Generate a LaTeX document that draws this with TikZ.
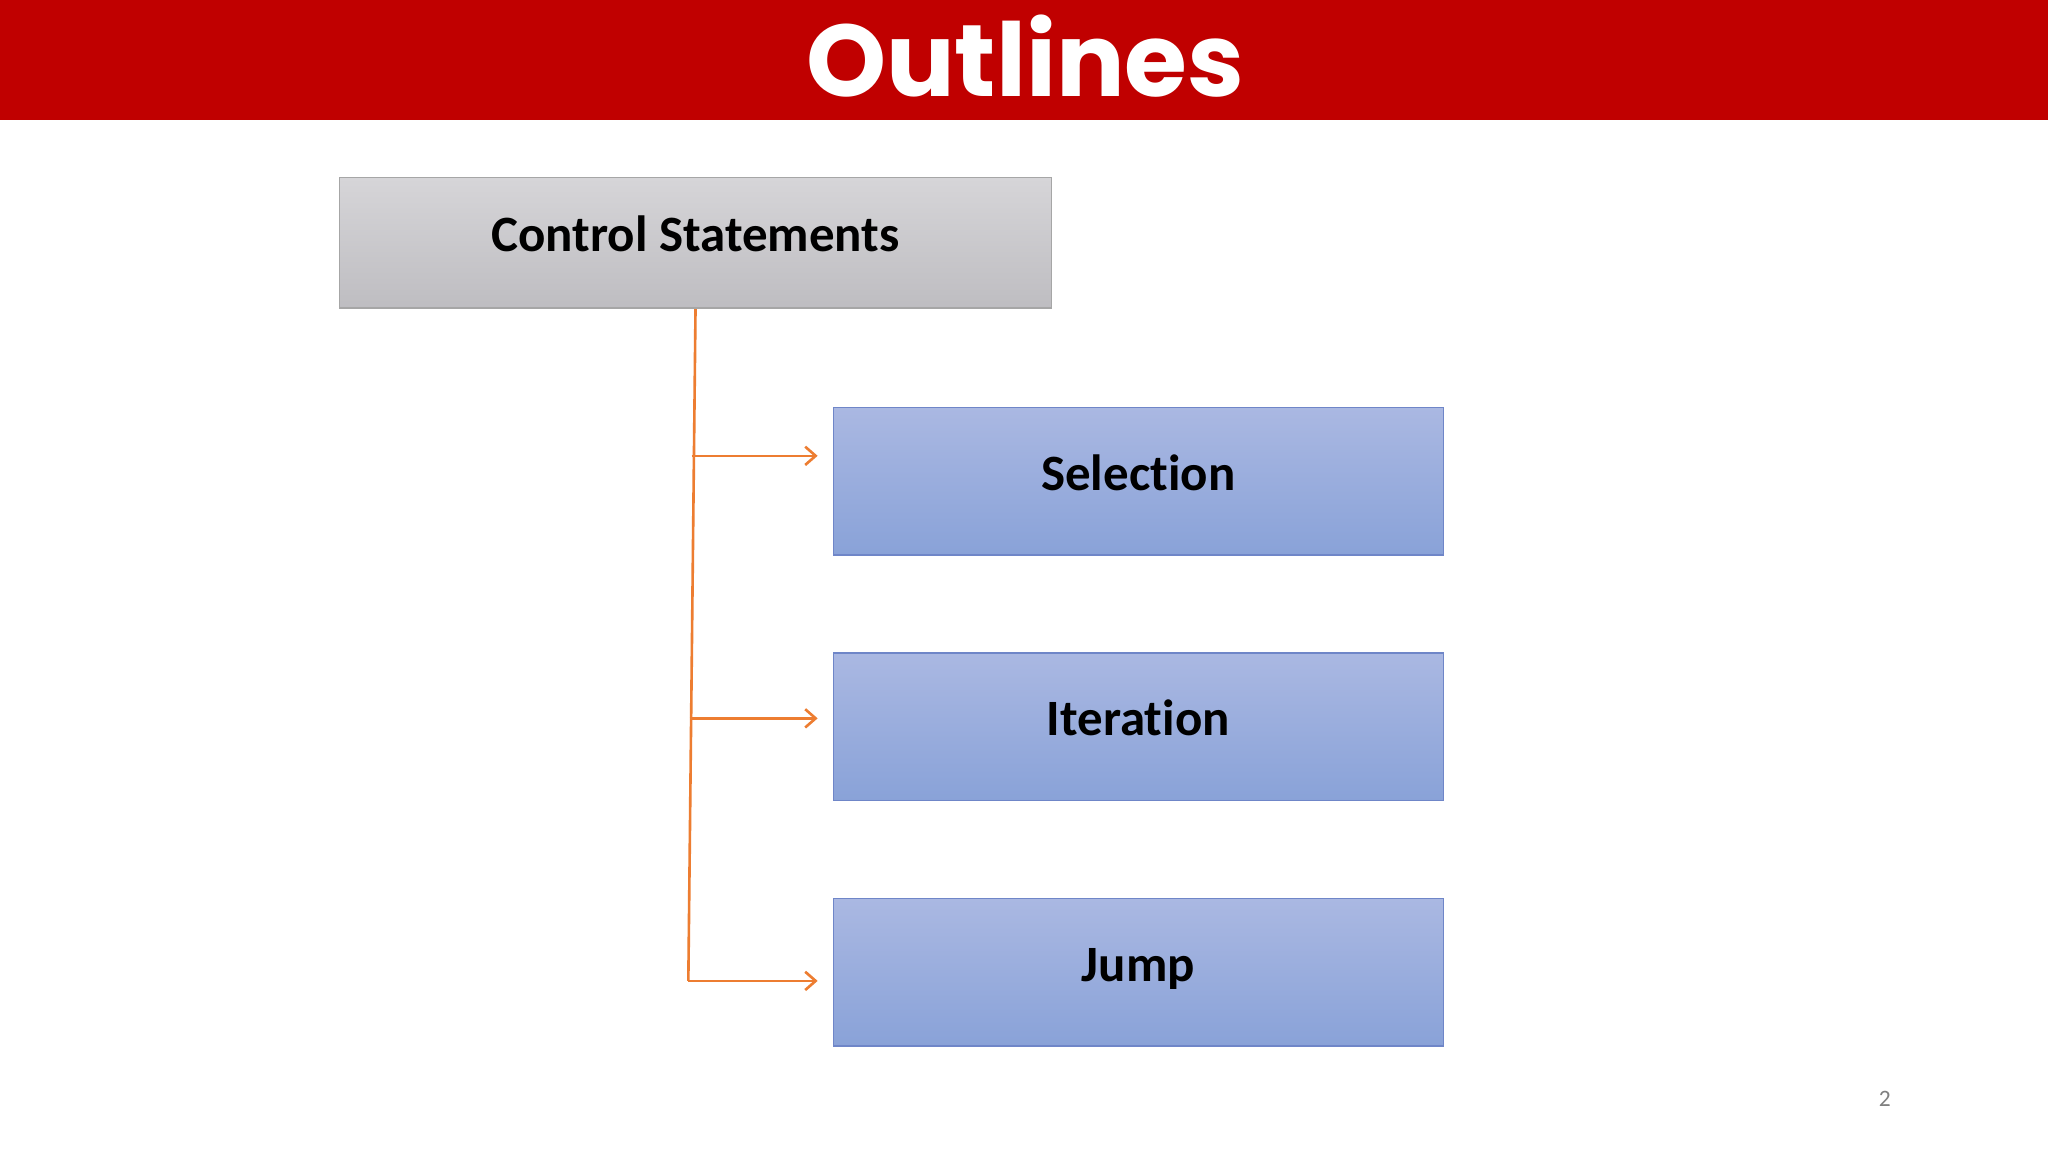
\documentclass[tikz,border=0pt]{standalone}
\usepackage{fontspec}
\setmainfont[RawFeature=-liga]{Carlito}
\newfontfamily\titlefont{Poppins}
\usetikzlibrary{arrows.meta}
\definecolor{hdr}{HTML}{C00000}
\definecolor{org}{HTML}{ED7D31}
\definecolor{bborder}{HTML}{6F86C8}
\tikzset{
  boxtext/.style={font=\bfseries\fontsize{19.5}{22}\selectfont, text height=0.68em, text depth=0em},
  bluebox/.style={boxtext, draw=bborder, line width=0.6pt, top color={rgb,255:red,170;green,184;blue,226}, bottom color={rgb,255:red,137;green,162;blue,216}, minimum width=233.5pt, minimum height=56.5pt},
  graybox/.style={boxtext, draw=gray!70, line width=0.6pt, top color={rgb,255:red,214;green,213;blue,216}, bottom color={rgb,255:red,190;green,189;blue,193}, minimum width=272.5pt, minimum height=50pt},
  conn/.style={draw=org, line width=1pt, -{Straight Barb[length=4pt,width=7pt]}}
}
\begin{document}
\begin{tikzpicture}[x=0.5pt,y=-0.5pt]
\useasboundingbox (0,0) rectangle (1568,882);
\fill[white] (0,0) rectangle (1568,882);
\fill[hdr] (0,0) rectangle (1568,92);
\node[text=white, font=\titlefont\bfseries\fontsize{39}{43}\selectfont] (title) at (785,43) {Outlines};
\node[graybox] (cs) at (532.5,186) {Control Statements};
\node[bluebox] (sel) at (871.5,368.5) {Selection};
\node[bluebox] (it) at (871.5,556.5) {Iteration};
\node[bluebox] (jp) at (871.5,744.5) {Jump};
\coordinate (b1) at (529.5,349);
\coordinate (b2) at (528,550);
\coordinate (b3) at (527,751);
\draw[org, line width=1pt] (cs.south) -- (b3);
\draw[conn] (b1) -- (626,349) coordinate (e1);
\draw[conn] (b2) -- (626,550) coordinate (e2);
\draw[conn] (b3) -- (626,751) coordinate (e3);
\node[text=gray, font=\fontsize{9}{10}\selectfont] (pg) at (1443,841) {2};
\end{tikzpicture}
\end{document}
